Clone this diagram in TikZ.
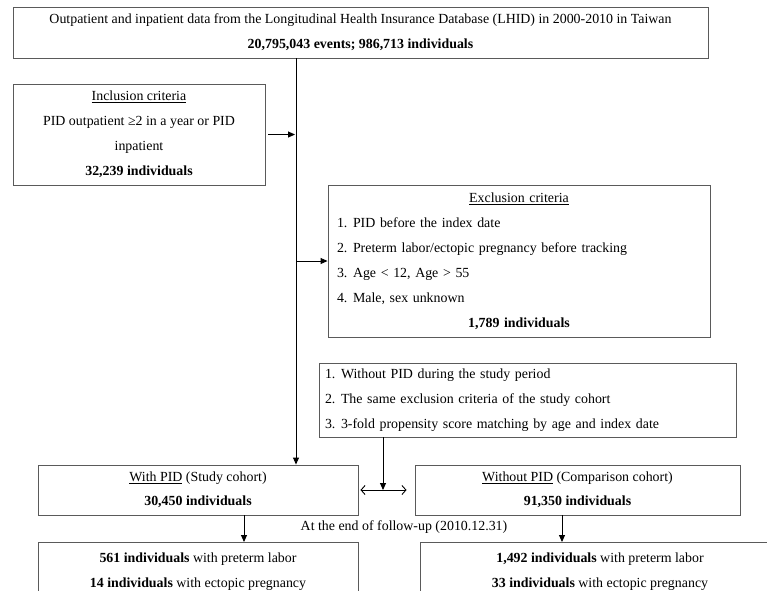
\documentclass[tikz,border=0pt]{standalone}
\usepackage{fontspec}
\setmainfont{Liberation Serif}
\usetikzlibrary{arrows.meta}
\definecolor{boxgray}{HTML}{5A5A5A}
\newcommand\bodyfont{\fontsize{13.9}{25}\selectfont}
\newcommand\itm[1]{\makebox[16pt][l]{#1}}
\begin{document}
\begin{tikzpicture}[x=1pt,y=-1pt,
  box/.style={draw=boxgray, line width=0.9pt, inner sep=0pt, align=center, font=\bodyfont},
  lbox/.style={draw=boxgray, line width=0.9pt, inner ysep=0pt, align=left, font=\bodyfont},
  arr/.style={-{Triangle[length=7pt,width=6pt]}, line width=0.9pt},
  darr/.style={{Straight Barb[length=4pt,width=9pt]}-{Straight Barb[length=4pt,width=9pt]}, line width=0.9pt},
  plain/.style={font=\bodyfont, inner sep=0pt}]
\clip (0,0) rectangle (767,590);
\fill[white] (0,0) rectangle (767,590);

\node[box, minimum width=695pt, minimum height=51pt] (top) at (360.5,32.5)
  {Outpatient and inpatient data from the Longitudinal Health Insurance Database (LHID) in 2000-2010 in Taiwan\\
   \textbf{20,795,043 events; 986,713 individuals}};

\node[box, minimum width=252pt, minimum height=101pt] (inc) at (139,134.5)
  {\underline{Inclusion criteria}\\PID outpatient ≥2 in a year or PID\\inpatient\\\textbf{32,239 individuals}};

\node[lbox, inner xsep=9pt, text width=364pt, minimum height=152pt] (exc) at (519,261)
  {\centerline{\underline{Exclusion criteria}}\\
   \itm{1.}PID before the index date\\
   \itm{2.}Preterm labor/ectopic pregnancy before tracking\\
   \itm{3.}Age < 12, Age > 55\\
   \itm{4.}Male, sex unknown\\
   \centerline{\textbf{1,789 individuals}}};

\node[lbox, inner xsep=6pt, text width=405pt, minimum height=74pt] (mid) at (527.5,400)
  {\itm{1.}Without PID during the study period\\
   \itm{2.}The same exclusion criteria of the study cohort\\
   \itm{3.}3-fold propensity score matching by age and index date};

\node[box, minimum width=320pt, minimum height=50pt] (wp) at (198,490)
  {\underline{With PID} (Study cohort)\\[-1pt]\textbf{30,450 individuals}};
\node[box, minimum width=325pt, minimum height=50pt] (wop) at (577.5,490)
  {\underline{Without PID} (Comparison cohort)\\[-1pt]\textbf{91,350 individuals}};

\node[plain] (fu) at (404,527) {At the end of follow-up (2010.12.31)};

\node[box, anchor=north, inner ysep=10pt, minimum width=320pt] (bl) at (198,542)
  {\textbf{561 individuals} with preterm labor\\\textbf{14 individuals} with ectopic pregnancy};
\node[box, anchor=north, inner ysep=10pt, minimum width=360pt] (br) at (600,542)
  {\textbf{1,492 individuals} with preterm labor\\\textbf{33 individuals} with ectopic pregnancy};

\coordinate (mx) at (296,300);
\coordinate (dc) at (383,490);
\coordinate (la) at (244,528);
\coordinate (ra) at (562,528);

\draw[arr] (top.south -| mx) -- (wp.north -| mx);
\draw[arr] ([xshift=3pt]inc.east) -- ([xshift=-1pt]inc.east -| mx);
\draw[arr] (exc.west -| mx) -- (exc.west);
\draw[arr] (mid.south -| dc) -- (dc);
\draw[darr] ([xshift=2pt]wp.east) -- ([xshift=-8pt]wop.west);
\draw[arr] (wp.south -| la) -- (bl.north -| la);
\draw[arr] (wop.south -| ra) -- (br.north -| ra);
\end{tikzpicture}
\end{document}
